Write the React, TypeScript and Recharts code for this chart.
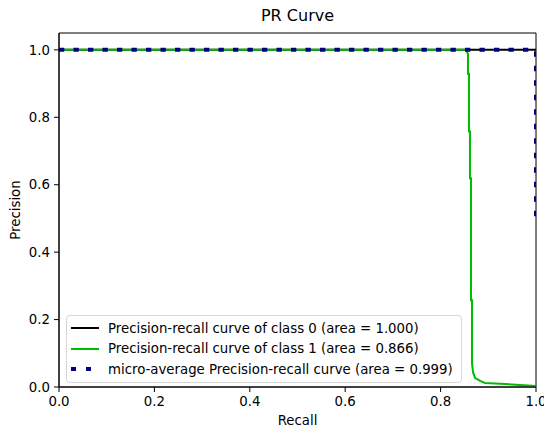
import React from 'react';
import { LineChart, Line, XAxis, YAxis, Legend, Label, ReferenceArea } from 'recharts';

// values
const class0Recall = [0, 1];
const class0Precision = [1, 1];

const class1Recall = [0, 0.853, 0.8574, 0.8574, 0.8595, 0.8595, 0.8616, 0.8616, 0.8637, 0.8637, 0.8658, 0.8658, 0.868, 0.872, 0.883, 0.893, 0.935, 0.966, 1];
const class1Precision = [1, 1, 0.988, 0.929, 0.929, 0.758, 0.758, 0.619, 0.619, 0.257, 0.257, 0.071, 0.044, 0.027, 0.018, 0.012, 0.009, 0.006, 0.003];

const microRecall = [0, 1, 1];
const microPrecision = [1, 1, 0.5];

const ticks = [0, 0.2, 0.4, 0.6, 0.8, 1.0];

const legendItems = [
  { label: 'Precision-recall curve of class 0 (area = 1.000)', color: '#000000', dotted: false },
  { label: 'Precision-recall curve of class 1 (area = 0.866)', color: '#00bc00', dotted: false },
  { label: 'micro-average Precision-recall curve (area = 0.999)', color: '#000080', dotted: true },
];

const toPoints = (xs: number[], ys: number[]) => xs.map((x, i) => ({ x, y: ys[i] }));

const class0 = toPoints(class0Recall, class0Precision);
const class1 = toPoints(class1Recall, class1Precision);
const micro = toPoints(microRecall, microPrecision);

const FONT = 'DejaVu Sans';
const tickStyle = { fill: '#000', fontSize: 13.3, fontFamily: FONT };

const LegendBox = () => (
  <div
    style={{
      display: 'inline-block',
      border: '1px solid #d6d6d6',
      borderRadius: 4,
      background: 'rgba(255,255,255,0.8)',
      padding: '2px 8px 2px 4px',
      fontFamily: FONT,
      fontSize: 13.3,
      color: '#000',
    }}
  >
    {legendItems.map((item) => (
      <div key={item.label} style={{ display: 'flex', alignItems: 'center', height: 20.5, whiteSpace: 'nowrap' }}>
        <svg width={28} height={8} style={{ marginRight: 9 }}>
          <line
            x1={0}
            y1={4}
            x2={28}
            y2={4}
            stroke={item.color}
            strokeWidth={item.dotted ? 4 : 2}
            strokeDasharray={item.dotted ? '5 10' : undefined}
          />
        </svg>
        <span>{item.label}</span>
      </div>
    ))}
  </div>
);

const YLabel = (props: any) => {
  const cy = props.viewBox.y + props.viewBox.height / 2;
  return (
    <text
      x={15}
      y={cy}
      transform={`rotate(-90 15 ${cy})`}
      textAnchor="middle"
      dominantBaseline="central"
      fontSize={13.3}
      fontFamily={FONT}
      fill="#000"
    >
      Precision
    </text>
  );
};

const App: React.FC = () => {
  return (
    <div style={{ position: 'absolute', left: 0, top: 0, width: 544, height: 432, background: '#fff' }}>
      <div
        style={{
          position: 'absolute',
          left: 59,
          top: 6,
          width: 477,
          textAlign: 'center',
          fontFamily: FONT,
          fontSize: 16,
          lineHeight: '20px',
          color: '#000',
        }}
      >
        PR Curve
      </div>
      <LineChart width={544} height={432} margin={{ top: 33, right: 8, bottom: 0, left: 0 }}>
        <XAxis
          dataKey="x"
          type="number"
          domain={[0, 1]}
          ticks={ticks}
          interval={0}
          allowDataOverflow
          tickFormatter={(v: number) => v.toFixed(1)}
          tick={tickStyle}
          tickSize={5}
          tickMargin={5}
          height={45}
          stroke="#000"
        >
          <Label value="Recall" position="insideBottom" offset={7} fontSize={13.3} fontFamily={FONT} fill="#000" />
        </XAxis>
        <YAxis
          type="number"
          domain={[0, 1.05]}
          ticks={ticks}
          interval={0}
          allowDataOverflow
          tickFormatter={(v: number) => v.toFixed(1)}
          tick={tickStyle}
          tickSize={5}
          tickMargin={4}
          width={59}
          stroke="#000"
        >
          <Label content={<YLabel />} />
        </YAxis>
        <ReferenceArea x1={0} x2={1} y1={0} y2={1.05} fill="none" stroke="#000" strokeWidth={1} ifOverflow="visible" />
        <Line data={class0} dataKey="y" stroke="#000000" strokeWidth={2} dot={false} isAnimationActive={false} />
        <Line data={class1} dataKey="y" stroke="#00bc00" strokeWidth={2} dot={false} isAnimationActive={false} />
        <Line
          data={micro}
          dataKey="y"
          stroke="#000080"
          strokeWidth={4}
          strokeDasharray="5.3 9.2"
          dot={false}
          isAnimationActive={false}
        />
        <Legend
          layout="vertical"
          align="center"
          verticalAlign="middle"
          content={<LegendBox />}
          wrapperStyle={{ position: 'absolute', left: 66, top: 315, width: 'auto', height: 'auto' }}
        />
      </LineChart>
    </div>
  );
};

export default App;
